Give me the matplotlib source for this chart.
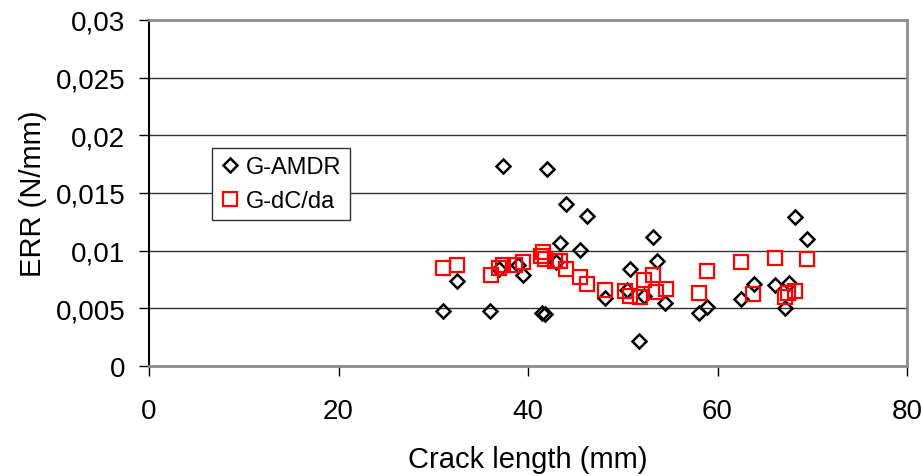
import matplotlib
matplotlib.use('Agg')
import matplotlib.pyplot as plt
from matplotlib.ticker import FuncFormatter

plt.rcParams['font.family'] = ['Liberation Sans', 'DejaVu Sans']

# G-AMDR (diamonds)
amdr_x = [31.0, 32.5, 36.0, 36.9, 37.4, 38.9, 39.5, 41.5, 41.8, 42.0, 43.0,
          43.4, 44.0, 45.5, 46.2, 48.1, 50.4, 50.8, 51.7, 52.2, 53.2, 53.6,
          54.5, 58.0, 58.9, 62.5, 63.8, 66.1, 67.1, 67.5, 68.2, 69.4]
amdr_y = [0.00474, 0.00737, 0.0048, 0.0084, 0.01737, 0.0088, 0.0079, 0.0046,
          0.0045, 0.01708, 0.0090, 0.01064, 0.01405, 0.0101, 0.0130, 0.0059,
          0.0066, 0.0084, 0.0022, 0.0061, 0.0112, 0.0091, 0.0055, 0.0046,
          0.0051, 0.0058, 0.0071, 0.0070, 0.0050, 0.0072, 0.0129, 0.0110]

# G-dC/da (squares)
dcda_x = [31.0, 32.5, 36.1, 36.9, 37.4, 38.6, 39.5, 41.4, 41.6, 41.8, 42.8,
          43.4, 44.0, 45.5, 46.2, 48.1, 50.2, 50.8, 51.8, 52.2, 53.2, 53.5,
          54.6, 58.0, 58.9, 62.5, 63.7, 66.1, 67.1, 67.4, 68.2, 69.4]
dcda_y = [0.0085, 0.0088, 0.0079, 0.0085, 0.0088, 0.0088, 0.0090, 0.0095,
          0.0099, 0.0093, 0.0091, 0.0091, 0.0084, 0.0077, 0.0071, 0.0066,
          0.0065, 0.0061, 0.0060, 0.0075, 0.0079, 0.0064, 0.0067, 0.0063,
          0.0082, 0.0090, 0.0062, 0.0094, 0.0060, 0.0063, 0.0065, 0.0093]

x_ticks = [0, 20, 40, 60, 80]
y_ticks = [0, 0.005, 0.01, 0.015, 0.02, 0.025, 0.03]

fig = plt.figure(figsize=(9.22, 4.77), dpi=100)
ax = fig.add_axes([149/922, 1-367/477, 758/922, 346/477])

ax.plot(amdr_x, amdr_y, linestyle='none', marker='D', ms=7.5,
        mfc='none', mec='black', mew=1.8, label='G-AMDR')
ax.plot(dcda_x, dcda_y, linestyle='none', marker='s', ms=9.5,
        mfc='none', mec='red', mew=1.6, label='G-dC/da')

ax.set_xlim(0, 80)
ax.set_ylim(0, 0.03)
ax.set_xticks(x_ticks)
ax.set_yticks(y_ticks)
ax.yaxis.set_major_formatter(FuncFormatter(lambda v, p: ('%g' % v).replace('.', ',')))
ax.yaxis.grid(True, color='#333333', linewidth=1)
ax.set_axisbelow(True)

ax.tick_params(direction='out', length=7, width=1, labelsize=20, color='black')
ax.tick_params(axis='y', pad=10)
ax.tick_params(axis='x', pad=16)

for s in ['top', 'right', 'bottom']:
    ax.spines[s].set_color('#8c8c8c')
    ax.spines[s].set_linewidth(2)
ax.spines['left'].set_color('black')
ax.spines['left'].set_linewidth(1.5)

ax.set_xlabel('Crack length (mm)', fontsize=21, labelpad=15)
ax.set_ylabel('ERR (N/mm)', fontsize=21, labelpad=6)

leg = ax.legend(loc='upper left', bbox_to_anchor=(0.083, 0.63), fontsize=17,
                frameon=True, fancybox=False, handlelength=0.8,
                handletextpad=0.3, borderpad=0.35, labelspacing=0.5,
                borderaxespad=0)
leg.get_frame().set_edgecolor('#333333')
leg.get_frame().set_linewidth(1)
leg.get_frame().set_alpha(1)

fig.savefig('out.png', dpi=100)
